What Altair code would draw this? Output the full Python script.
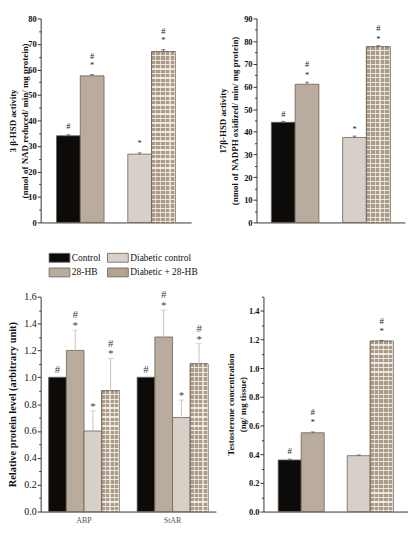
import altair as alt
import pandas as pd

FONT = "Liberation Serif"

# ---------------- data ----------------
groups = ["Control", "28-HB", "Diabetic control", "Diabetic + 28-HB"]
group_colors = ["#0d0b0a", "#b9ab9e", "#d6d0c9", "#b3a392"]

hsd3_vals = [34.0, 57.5, 26.8, 67.0]
hsd3_err = [0.4, 0.5, 0.5, 0.8]
hsd3_notes = ["#", "#*", "*", "#*"]

hsd17_vals = [44.2, 61.0, 37.5, 77.5]
hsd17_err = [0.4, 0.9, 0.6, 0.5]
hsd17_notes = ["#", "#*", "*", "#*"]

genes = ["ABP", "StAR"]
abp_vals = [1.0, 1.2, 0.6, 0.9]
abp_err = [0.0, 0.15, 0.15, 0.24]
star_vals = [1.0, 1.3, 0.7, 1.1]
star_err = [0.0, 0.2, 0.13, 0.15]
prot_notes = ["#", "#*", "*", "#*"]

testo_vals = [0.36, 0.55, 0.39, 1.19]
testo_err = [0.006, 0.006, 0.005, 0.005]
testo_notes = ["#", "#*", "", "#*"]

hsd3_ticks = [0, 5, 10, 15, 20, 25, 30, 35, 40, 45, 50, 55, 60, 65, 70, 75, 80]
hsd17_ticks = [0, 5, 10, 15, 20, 25, 30, 35, 40, 45, 50, 55, 60, 65, 70, 75, 80, 85, 90]
prot_ticks = [0.0, 0.1, 0.2, 0.3, 0.4, 0.5, 0.6, 0.7, 0.8, 0.9, 1.0, 1.1, 1.2, 1.3, 1.4, 1.5, 1.6]
testo_ticks = [0.0, 0.1, 0.2, 0.3, 0.4, 0.5, 0.6, 0.7, 0.8, 0.9, 1.0, 1.1, 1.2, 1.3, 1.4, 1.5]

CHECK = "Diabetic + 28-HB"
EDGE = "#6e6054"
GAP = "gap"

# band slots: the two normal groups, an empty slot, the two diabetic groups
pair_slots = groups[:2] + [GAP] + groups[2:]
prot_slots = [f"{genes[0]}|{g}" for g in groups] + [GAP] + [f"{genes[1]}|{g}" for g in groups]


def frame(keys, vals, errs, notes):
    return pd.DataFrame({
        "key": keys, "group": groups, "value": vals, "err": errs,
        "top": [v + e for v, e in zip(vals, errs)],
        "hash": ["#" if "#" in n else "" for n in notes],
        "star": ["*" if "*" in n else "" for n in notes],
    })


df_hsd3 = frame(groups, hsd3_vals, hsd3_err, hsd3_notes)
df_hsd17 = frame(groups, hsd17_vals, hsd17_err, hsd17_notes)
df_prot = pd.concat([
    frame([f"{genes[0]}|{g}" for g in groups], abp_vals, abp_err, prot_notes),
    frame([f"{genes[1]}|{g}" for g in groups], star_vals, star_err, prot_notes),
], ignore_index=True)
df_testo = frame(groups, testo_vals, testo_err, testo_notes)


def stripes(n, a, b, frac, vertical):
    stops = []
    for k in range(n):
        s0 = k / n
        s1 = (k + frac) / n
        s2 = (k + 1) / n
        stops += [{"offset": s0, "color": a}, {"offset": s1, "color": a},
                  {"offset": s1, "color": b}, {"offset": s2, "color": b}]
    g = {"gradient": "linear", "stops": stops}
    if vertical:
        g.update(x1=0, x2=1, y1=0, y2=0)
    else:
        g.update(x1=0, x2=0, y1=0, y2=1)
    return g


def panel(df, xdomain, ydomain, ticks, major_test, label_expr,
          ytitle, w, h, pout, bold_labels, lab_size, title_size, title_x,
          note_size, dy_star, dy_hash_pair, dy_hash_alone, note_color, err_color, cap,
          legend=None, xlabels=False, bar_px=24):
    lw = "bold" if bold_labels else "normal"
    if xlabels:
        xax = alt.Axis(ticks=False, title=None, domainColor="#3a3430",
                       labelExpr="indexof(datum.label, '|28-HB') > 0 ? split(datum.label, '|')[0] : ''",
                       labelOffset=bar_px / 2, labelFont=FONT, labelFontSize=8, labelColor="#555",
                       labelPadding=5, labelAngle=0)
    else:
        xax = alt.Axis(labels=False, ticks=False, title=None, domainColor="#3a3430")
    X = alt.X("key:N", scale=alt.Scale(type="band", domain=xdomain, paddingInner=0,
                                       paddingOuter=pout), axis=xax)

    def Y(field):
        return alt.Y(f"{field}:Q", scale=alt.Scale(domain=ydomain, nice=False, zero=True),
                     axis=alt.Axis(values=ticks, labelExpr=label_expr,
                                   tickSize={"condition": {"test": major_test, "value": 3.5}, "value": 2},
                                   title=ytitle, titleX=title_x, titleBaseline="middle",
                                   titleFont=FONT, titleFontSize=title_size, titleFontWeight="bold",
                                   titleLineHeight=title_size + 2.5,
                                   labelFont=FONT, labelFontSize=lab_size, labelFontWeight=lw,
                                   labelPadding=1, labelFlush=False, domainColor="#3a3430",
                                   tickColor="#3a3430", labelColor="#111", titleColor="#111"))

    color = alt.Color("group:N", scale=alt.Scale(domain=groups, range=group_colors),
                      legend=legend)
    base = alt.Chart(df)
    layers = [base.mark_bar(stroke=EDGE, strokeWidth=0.8).encode(x=X, y=Y("value"), color=color)]

    ymax = ydomain[1]
    for _, row in df[df.group == CHECK].iterrows():
        n_h = max(4, round(row.value / ymax * h / 4.5))
        n_v = max(3, round(bar_px / 4.5))
        chk = base.transform_filter(alt.datum.key == row.key)
        layers.append(chk.mark_bar(fill=stripes(n_h, "#ab9b89", "#ece6de", 0.75, False),
                                   stroke=EDGE, strokeWidth=0.8)
                      .encode(x=X, y=Y("value")))
        layers.append(chk.mark_bar(fill=stripes(n_v, "rgba(0,0,0,0)", "rgba(245,240,234,0.7)", 0.75, True),
                                   strokeWidth=0)
                      .encode(x=X, y=Y("value")))

    eb = base.transform_filter(alt.datum.err > 0)
    layers.append(eb.mark_rule(color=err_color, strokeWidth=1).encode(
        x=X, y=Y("value"), y2="top:Q"))
    layers.append(eb.mark_tick(color=err_color, size=cap, thickness=1).encode(
        x=X, y=Y("top")))

    txt = dict(baseline="alphabetic", font=FONT, fontSize=note_size, color=note_color)
    layers.append(base.transform_filter(alt.datum.star != "")
                  .mark_text(dy=dy_star, **txt)
                  .encode(x=X, y=Y("top"), text="star:N"))
    layers.append(base.transform_filter((alt.datum.hash != "") & (alt.datum.star != ""))
                  .mark_text(dy=dy_hash_pair, **txt)
                  .encode(x=X, y=Y("top"), text="hash:N"))
    layers.append(base.transform_filter((alt.datum.hash != "") & (alt.datum.star == ""))
                  .mark_text(dy=dy_hash_alone, **txt)
                  .encode(x=X, y=Y("top"), text="hash:N"))
    return alt.layer(*layers).properties(width=w, height=h)


A = panel(df_hsd3, pair_slots, [0, 80], hsd3_ticks,
          "datum.value % 10 === 0", "datum.value % 10 === 0 ? datum.label : ''",
          ["3 β-HSD activity", "(nmol of NAD reduced/ min/ mg protein)"],
          152, 206, 0.667, True, 8.5, 9, -28, 8.5, -6.8, -15.4, -6.2, "#222", "#555", 4)

B = panel(df_hsd17, pair_slots, [0, 90], hsd17_ticks,
          "datum.value % 10 === 0", "datum.value % 10 === 0 ? datum.label : ''",
          ["17β-HSD activity", "(nmol of NADPH oxidized/ min/ mg protein)"],
          150, 206, 0.625, True, 8.5, 9, -34, 8.5, -3.8, -14.9, -4.9, "#222", "#555", 4)

legend = alt.Legend(orient="none", legendX=13.5, legendY=-45, columns=2, title=None,
                    symbolType="M-2.1,-0.9H2.1V0.9H-2.1Z", symbolSize=100,
                    symbolStrokeColor=EDGE, symbolStrokeWidth=0.8, symbolOpacity=1,
                    labelFont=FONT, labelFontSize=9.5, labelColor="#111", labelOffset=7,
                    columnPadding=4, rowPadding=2)

C = panel(df_prot, prot_slots, [0, 1.6], prot_ticks,
          "round(datum.value * 10) % 2 === 0",
          "round(datum.value * 10) % 2 === 0 ? format(datum.value, '.1f') : ''",
          "Relative protein level (arbitrary unit)",
          177, 217, 0.45, False, 10, 10.5, -28, 11, -1, -12, -4, "#444", "#c9c1b9", 6,
          legend=legend, xlabels=True, bar_px=17.9)

D = panel(df_testo, pair_slots, [0, 1.5], testo_ticks,
          "round(datum.value * 10) % 2 === 0",
          "round(datum.value * 10) % 2 === 0 ? format(datum.value, '.1f') : ''",
          ["Testosterone concentration", "(ng/ mg tissue)"],
          146, 217, 0.64, True, 8.5, 9, -33, 9, -6.8, -17, -4.9, "#222", "#555", 4)

row1 = alt.hconcat(A, B, spacing=66, bounds="flush").resolve_scale(color="independent").resolve_legend(color="independent")
row2 = alt.hconcat(C, D, spacing=48, bounds="flush").resolve_scale(color="independent").resolve_legend(color="independent")

chart = alt.vconcat(row1, row2, spacing=25).resolve_scale(color="independent").resolve_legend(
    color="independent").properties(
    padding={"left": 0, "top": 4, "right": 0, "bottom": 0},
    background="white",
).configure_view(stroke=None).configure_axis(grid=False)

chart.save("out.html", embed_options={"renderer": "svg", "actions": False})
